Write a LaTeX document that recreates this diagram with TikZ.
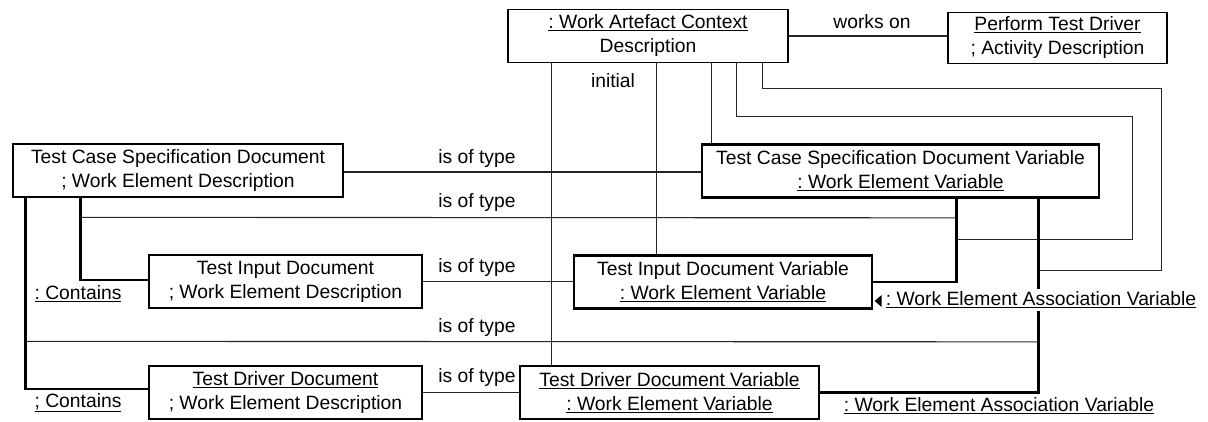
\documentclass[tikz,border=0pt]{standalone}
\usepackage{fontspec}
\setmainfont{Liberation Sans}
\usetikzlibrary{calc}
\newcommand{\ul}[1]{\underline{#1}}
\frenchspacing
\begin{document}
\begin{tikzpicture}[x=1pt,y=-1pt]
       \tikzstyle{every node} = [font=\fontsize{19.3}{24}\selectfont, inner sep=1pt];
       \tikzstyle{obj} = [rectangle, draw, line width=1.3pt, align=center, minimum height=53pt];
       \tikzstyle{objthick} = [obj, line width=2.7pt];
       \tikzstyle{link} = [line width=1.1pt, black!85];
       \tikzstyle{assoc} = [line width=2.7pt];
       \useasboundingbox (0,0) rectangle (1208,422);

       % context and activity
       \node[obj, minimum width=280pt](wac) at (648,36) {\ul{: Work Artefact Context}\\Description};
       \node[obj, minimum width=219pt, minimum height=51pt](perf) at (1057.5,38) {\ul{Perform Test Driver}\\; Activity Description};

       % work element descriptions
       \node[objthick, minimum width=330pt](tcsd) at (178,170.5) {Test Case Specification Document\\; Work Element Description};
       \node[objthick, minimum width=273pt](tid) at (285.5,281.5) {Test Input Document\\; Work Element Description};
       \node[objthick, minimum width=273pt](tdd) at (285.5,392.5) {\ul{Test Driver Document}\\; Work Element Description};

       % work element variables
       \node[objthick, minimum width=397pt](tcsdv) at (900.5,171) {Test Case Specification Document Variable\\\ul{: Work Element Variable}};
       \node[objthick, minimum width=298pt](tidv) at (723,282) {Test Input Document Variable\\\ul{: Work Element Variable}};
       \node[objthick, minimum width=299pt](tddv) at (669.5,392.5) {\ul{Test Driver Document Variable}\\\ul{: Work Element Variable}};

       % is of type
       \draw[link] (wac.east) -- (wac.east -| perf.west);
       \node(workson) at (872,22) {works on};
       \draw[link] ($(tcsd.east)+(0,1.5)$) -- ($(tcsd.east -| tcsdv.west)+(0,1.5)$);
       \draw[link] (tid.east) -- (tid.east -| tidv.west);
       \draw[link] (tdd.east) -- (tdd.east -| tddv.west);
       \draw[link] ($(tcsd.south west)+(69,19)$) -- ($(tcsdv.south west)+(256,19)$);
       \draw[link] ($(tcsd.south west)+(14,143)$) -- ($(tcsdv.south west)+(338,143)$);
       \node(type1) at (477,159) {is of type};
       \node(type2) at (477,203) {is of type};
       \node(type3) at (477,268) {is of type};
       \node(type4) at (477,328) {is of type};
       \node(type5) at (477,378) {is of type};

       % context to variables
       \coordinate (c1) at ($(wac.south west)+(44,0)$);
       \coordinate (c2) at ($(wac.south west)+(149,0)$);
       \coordinate (c3) at ($(wac.south west)+(204,0)$);
       \coordinate (c4) at ($(wac.south west)+(229,0)$);
       \coordinate (c5) at ($(wac.south west)+(255,0)$);
       \draw[link] (c1) -- (c1 |- tddv.north);
       \draw[link] (c2) -- (c2 |- tidv.north);
       \draw[link] (c3) -- (c3 |- tcsdv.north);
       \draw[link] (c4) -- ++(0,53) -- ++(396,0) -- ++(0,123) -- ++(-176,0);
       \draw[link] (c5) -- ++(0,25) -- ++(399,0) -- ++(0,182) -- ++(-123,0);
       \node(initial) at (613,81) {initial};

       % contains
       \draw[assoc] ($(tcsd.south west)+(69,0)$) |- ($(tid.west)+(0,-1.5)$);
       \draw[assoc] ($(tcsd.south west)+(14,0)$) |- ($(tdd.west)+(0,-3.5)$);
       \node(cont1) at (78,294) {\ul{: Contains}};
       \node(cont2) at (78,403) {\ul{; Contains}};

       % work element association variables
       \draw[assoc] ($(tcsdv.south west)+(256,0)$) |- (tidv.east);
       \draw[assoc] ($(tcsdv.south west)+(338,0)$) |- (tddv.east);
       \node[fill=white, inner ysep=3pt](wea1) at (1041,300) {\ul{: Work Element Association Variable}};
       \fill ($(wea1.west)+(-10,1)$) -- ++(7,-6) -- ++(0,12) -- cycle;
       \node(wea2) at (999,406) {\ul{: Work Element Association Variable}};
     \end{tikzpicture}
\end{document}
